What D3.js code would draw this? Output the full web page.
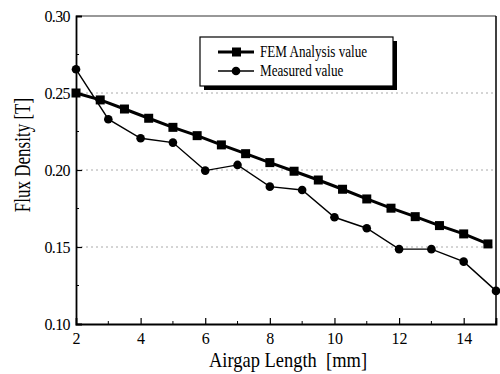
<!DOCTYPE html>
<html>
<head>
<meta charset="utf-8">
<script src="https://cdn.jsdelivr.net/npm/d3@7"></script>
<style>
  body { margin: 0; background: #fff; }
</style>
</head>
<body>
<div id="chart"></div>
<script>
const chartWidth = 500
const chartHeight = 374
const margin = ({ top: 16, right: 4, bottom: 50, left: 76 })
const serif = '"Liberation Serif", "Times New Roman", Tinos, "DejaVu Serif", serif'

// FEM analysis (squares)
const femX = [2, 2.75, 3.5, 4.25, 5, 5.75, 6.5, 7.25, 8, 8.75, 9.5, 10.25, 11, 11.75, 12.5, 13.25, 14, 14.75]
const femY = [0.250, 0.2455, 0.2396, 0.2336, 0.2277, 0.2223, 0.2163, 0.2106, 0.2048, 0.1992, 0.1935, 0.1875, 0.1812, 0.1752, 0.1697, 0.1639, 0.1585, 0.152]

// measured (circles)
const measX = [2, 3, 4, 5, 6, 7, 8, 9, 10, 11, 12, 13, 14, 15]
const measY = [0.2654, 0.233, 0.2206, 0.2178, 0.1996, 0.2033, 0.1892, 0.187, 0.1693, 0.1622, 0.1486, 0.1486, 0.1405, 0.1215]

const xTicks = [2, 4, 6, 8, 10, 12, 14]
const xMinor = [3, 5, 7, 9, 11, 13, 15]
const yTicks = [0.10, 0.15, 0.20, 0.25, 0.30]
const yMinor = [0.125, 0.175, 0.225, 0.275]
const gridY = [0.15, 0.20, 0.25]
const seriesNames = ['FEM Analysis value', 'Measured value']

const femData = femX.map((x, i) => ({ x: x, y: femY[i] }))
const measData = measX.map((x, i) => ({ x: x, y: measY[i] }))

let xScale = d3.scaleLinear()
    .domain([2, 15])
    .range([margin.left, chartWidth - margin.right])

let yScale = d3.scaleLinear()
    .domain([0.10, 0.30])
    .range([chartHeight - margin.bottom, margin.top])

const svg = d3.select('#chart').append('svg')
    .attr('width', chartWidth)
    .attr('height', chartHeight)

// dotted grid
svg.append('g')
    .selectAll('line')
    .data(gridY)
    .enter().append('line')
    .attr('x1', xScale(2))
    .attr('x2', xScale(15))
    .attr('y1', d => yScale(d))
    .attr('y2', d => yScale(d))
    .attr('stroke', '#aaa')
    .attr('stroke-width', 1)
    .attr('stroke-dasharray', '2,3')

// frame: top and right
svg.append('line')
    .attr('x1', xScale(2)).attr('x2', xScale(15))
    .attr('y1', yScale(0.30)).attr('y2', yScale(0.30))
    .attr('stroke', '#333').attr('stroke-width', 1.2)
svg.append('line')
    .attr('x1', xScale(15)).attr('x2', xScale(15))
    .attr('y1', yScale(0.30)).attr('y2', yScale(0.10))
    .attr('stroke', '#000').attr('stroke-width', 1.5)

// axes
let xAxis = d3.axisBottom(xScale).tickValues(xTicks).tickSize(-6).tickPadding(9).tickFormat(d3.format('d'))
let yAxis = d3.axisLeft(yScale).tickValues(yTicks).tickSize(-6).tickPadding(6).tickFormat(d3.format('.2f'))

const gx = svg.append('g')
    .attr('transform', 'translate(0,' + yScale(0.10) + ')')
    .call(xAxis)
gx.selectAll('g.tick').filter(d => d == 2).select('line').remove()

const gy = svg.append('g')
    .attr('transform', 'translate(' + xScale(2) + ', 0)')
    .call(yAxis)
gy.selectAll('g.tick').filter(d => d == 0.10 || d == 0.30).select('line').remove()

svg.selectAll('g').attr('font-family', null)
svg.selectAll('.domain').attr('stroke', '#000').attr('stroke-width', 1.8)
svg.selectAll('.tick line').attr('stroke', '#000').attr('stroke-width', 1.2)
svg.selectAll('.tick text')
    .attr('font-family', serif)
    .attr('font-size', 16)
    .attr('fill', '#000')
gy.selectAll('.tick text').attr('letter-spacing', '-0.6px')

// minor ticks
svg.append('g')
    .selectAll('line')
    .data(xMinor)
    .enter().append('line')
    .attr('x1', d => xScale(d)).attr('x2', d => xScale(d))
    .attr('y1', yScale(0.10)).attr('y2', yScale(0.10) - 3)
    .attr('stroke', '#000')
svg.append('g')
    .selectAll('line')
    .data(yMinor)
    .enter().append('line')
    .attr('x1', xScale(2)).attr('x2', xScale(2) + 3)
    .attr('y1', d => yScale(d)).attr('y2', d => yScale(d))
    .attr('stroke', '#000')

// axis titles
svg.append('text')
    .attr('transform', 'translate(30,155) rotate(-90) scale(0.74,1)')
    .attr('text-anchor', 'middle')
    .attr('font-family', serif)
    .attr('font-size', 23)
    .text('Flux Density [T]')

svg.append('text')
    .attr('transform', 'translate(288,367) scale(0.84,1)')
    .attr('text-anchor', 'middle')
    .attr('font-family', serif)
    .attr('font-size', 22)
    .attr('xml:space', 'preserve')
    .text('Airgap Length  [mm]')

let lineGenerator = d3.line().x(d => xScale(d.x)).y(d => yScale(d.y))

// measured series
svg.append('path')
    .attr('d', lineGenerator(measData))
    .attr('stroke', '#000')
    .attr('stroke-width', 1.4)
    .attr('fill', 'none')
svg.append('g')
    .selectAll('circle')
    .data(measData)
    .enter().append('circle')
    .attr('cx', d => xScale(d.x))
    .attr('cy', d => yScale(d.y))
    .attr('r', 4.3)
    .attr('fill', '#000')

// FEM series
svg.append('path')
    .attr('d', lineGenerator(femData))
    .attr('stroke', '#000')
    .attr('stroke-width', 3)
    .attr('fill', 'none')
svg.append('g')
    .selectAll('rect')
    .data(femData)
    .enter().append('rect')
    .attr('x', d => xScale(d.x) - 4.5)
    .attr('y', d => yScale(d.y) - 4.5)
    .attr('width', 9)
    .attr('height', 9)
    .attr('fill', '#000')

// legend
const lg = svg.append('g')
lg.append('rect')
    .attr('x', 204).attr('y', 41).attr('width', 193).attr('height', 49)
    .attr('fill', '#000')
lg.append('rect')
    .attr('x', 200).attr('y', 37).attr('width', 193).attr('height', 49)
    .attr('fill', '#fff').attr('stroke', '#000').attr('stroke-width', 1.2)

seriesNames.forEach((name, i) => {
  const ly = 52 + i * 19
  lg.append('line')
      .attr('x1', 218).attr('x2', 254)
      .attr('y1', ly).attr('y2', ly)
      .attr('stroke', '#000')
      .attr('stroke-width', i == 0 ? 3 : 1.4)
  if (i == 0) {
    lg.append('rect').attr('x', 232).attr('y', ly - 4.5).attr('width', 9).attr('height', 9).attr('fill', '#000')
  } else {
    lg.append('circle').attr('cx', 236).attr('cy', ly).attr('r', 4.3).attr('fill', '#000')
  }
  lg.append('text')
      .attr('transform', 'translate(260,' + (ly + 5) + ') scale(0.82,1)')
      .attr('font-family', serif)
      .attr('font-size', 16)
      .text(name)
})
</script>
</body>
</html>
